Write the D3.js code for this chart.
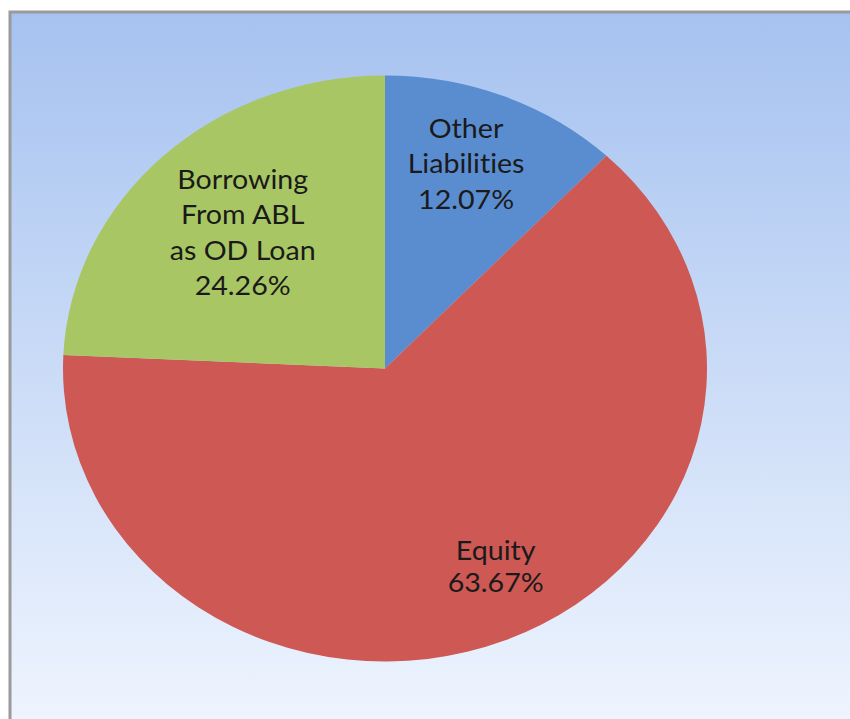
<!DOCTYPE html>
<html>
<head>
<meta charset="utf-8">
<script src="https://cdn.jsdelivr.net/npm/d3@7"></script>
<style>
  html, body { margin: 0; padding: 0; background: #ffffff; }
  svg { display: block; }
  text { font-variant-ligatures: none; }
</style>
</head>
<body>
<svg id="chart" width="850" height="719"></svg>
<script>
// Liabilities breakdown
const categories = ["Other Liabilities", "Equity", "Borrowing From ABL as OD Loan"];
const shares = [12.07, 63.67, 24.26];
const labelLines = [
  ["Other", "Liabilities", "12.07%"],
  ["Equity", "63.67%"],
  ["Borrowing", "From ABL", "as OD Loan", "24.26%"]
];
const colors = ["#5a8dd0", "#cd5854", "#a8c764"];

const W = 850, H = 719;
const svg = d3.select("#chart");

// Background panel with vertical gradient
const defs = svg.append("defs");
const grad = defs.append("linearGradient")
  .attr("id", "bg").attr("x1", 0).attr("y1", 0).attr("x2", 0).attr("y2", 1);
grad.append("stop").attr("offset", "0%").attr("stop-color", "#a6c2f0");
grad.append("stop").attr("offset", "100%").attr("stop-color", "#eff5fe");

svg.append("rect")
  .attr("x", 10).attr("y", 12)
  .attr("width", W).attr("height", H)
  .attr("fill", "url(#bg)")
  .attr("stroke", "#9a9a9a").attr("stroke-width", 3);

// Elliptical pie
const cx = 385, cy = 368.5, rx = 322, ry = 293;

const pie = d3.pie().sort(null).value(d => d)(shares);
const arc = d3.arc().innerRadius(0).outerRadius(rx);

const g = svg.append("g")
  .attr("transform", `translate(${cx},${cy}) scale(1,${ry / rx})`);

g.selectAll("path")
  .data(pie)
  .join("path")
  .attr("d", arc)
  .attr("fill", (d, i) => colors[i]);

// Labels, anchored along each slice's mid-angle (separate x / y reach)
const labelReachX = [0.68, 0.92, 0.64];
const labelReachY = [0.75, 0.73, 0.64];
const lineH = [35.5, 33, 35.5];

const labels = svg.append("g")
  .attr("font-family", "Lato, 'Open Sans', sans-serif")
  .attr("font-size", 26)
  .attr("fill", "#1a1a1a")
  .attr("text-anchor", "middle");

pie.forEach((d, i) => {
  const a = (d.startAngle + d.endAngle) / 2;
  const x = cx + Math.sin(a) * rx * labelReachX[i];
  const y = cy - Math.cos(a) * ry * labelReachY[i];
  const lines = labelLines[i];
  const t = labels.append("text")
    .attr("transform", `translate(${x},${y - (lines.length - 1) * lineH[i] / 2}) scale(1.1,1)`);
  lines.forEach((s, k) => {
    t.append("tspan").attr("x", 0).attr("y", k * lineH[i]).attr("dy", "0.35em").text(s);
  });
});
</script>
</body>
</html>
